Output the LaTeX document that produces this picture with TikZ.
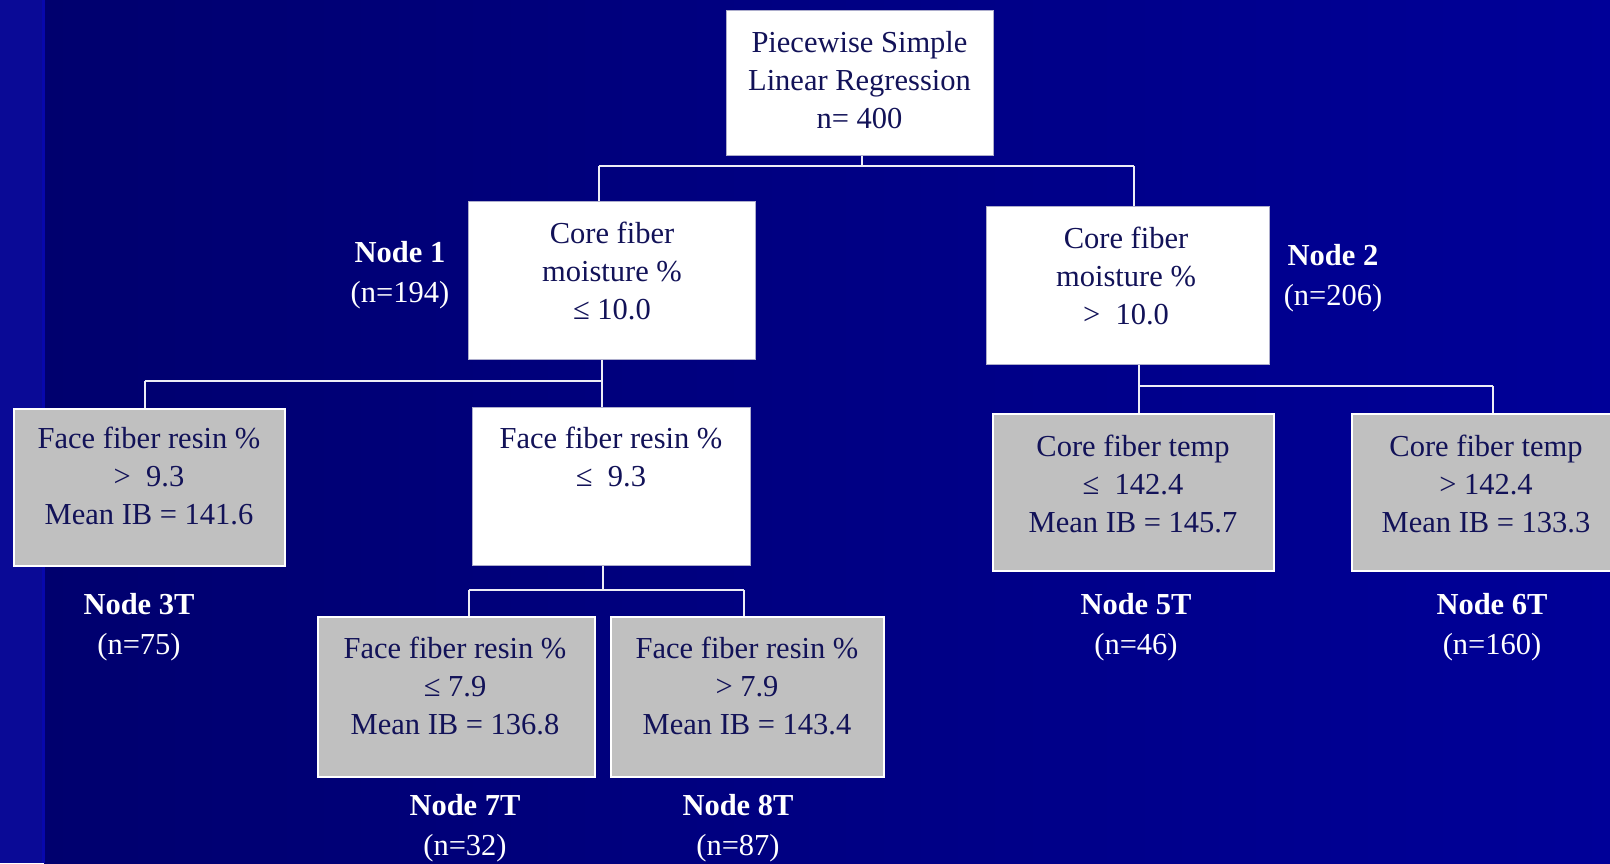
\documentclass[tikz,border=0pt]{standalone}
\usepackage{fontspec}
\setmainfont{Liberation Serif}
\definecolor{bgleft}{RGB}{0,0,110}
\definecolor{bgright}{RGB}{0,0,152}
\definecolor{stripcol}{RGB}{10,10,150}
\definecolor{stripedge}{RGB}{8,8,172}
\definecolor{ink}{RGB}{18,18,88}
\definecolor{panel}{RGB}{192,192,192}
\definecolor{wire}{RGB}{236,236,246}
\begin{document}
\begin{tikzpicture}[x=1pt,y=-1pt,
  wbox/.style={rectangle, fill=white, draw=white!80!blue!60!gray, line width=1pt, inner sep=0pt},
  gbox/.style={rectangle, fill=panel, draw=white, line width=1.8pt, inner sep=0pt},
  txt/.style={align=center, text=ink, inner sep=0pt, font=\fontsize{30.5}{38}\selectfont},
  lab/.style={align=center, text=white, inner sep=0pt, font=\fontsize{30.5}{40.5}\selectfont},
  link/.style={draw=wire, line width=2pt}]
\useasboundingbox (0,0) rectangle (1610,863);
% background
\shade[left color=bgleft, right color=bgright] (44,0) rectangle (1610,863);
\fill[stripcol] (0,0) rectangle (43,863);
\fill[stripedge] (42,0) rectangle (45,863);

% boxes
\node[wbox, minimum width=267pt, minimum height=145pt] (root) at (859.5,82.5) {};
\node[wbox, minimum width=287pt, minimum height=158pt] (n1) at (611.5,280) {};
\node[wbox, minimum width=283pt, minimum height=158pt] (n2) at (1127.5,285) {};
\node[gbox, minimum width=271pt, minimum height=157pt] (b3) at (149.5,487.5) {};
\node[wbox, minimum width=278pt, minimum height=158pt] (b4) at (611,486) {};
\node[gbox, minimum width=281pt, minimum height=157pt] (b5) at (1133.5,492.5) {};
\node[gbox, minimum width=262pt, minimum height=157pt] (b6) at (1483,492.5) {};
\node[gbox, minimum width=277pt, minimum height=160pt] (b7) at (456.5,697) {};
\node[gbox, minimum width=273pt, minimum height=160pt] (b8) at (747.5,697) {};

% box texts
\node[txt] (troot) at (859.5,80) {Piecewise Simple\\Linear Regression\\n= 400};
\node[txt] (tn1) at (612,271) {Core fiber\\moisture \%\\≤ 10.0};
\node[txt] (tn2) at (1126,276) {Core fiber\\moisture \%\\>\ \ 10.0};
\node[txt] (tb3) at (149,476) {Face fiber resin \%\\>\ \ 9.3\\Mean IB = 141.6};
\node[txt] (tb4) at (611,457) {Face fiber resin \%\\≤\ \ 9.3};
\node[txt] (tb5) at (1133,484) {Core fiber temp\\≤\ \ 142.4\\Mean IB = 145.7};
\node[txt] (tb6) at (1486,484) {Core fiber temp\\> 142.4\\Mean IB = 133.3};
\node[txt] (tb7) at (455,686) {Face fiber resin \%\\≤ 7.9\\Mean IB = 136.8};
\node[txt] (tb8) at (747,686) {Face fiber resin \%\\> 7.9\\Mean IB = 143.4};

% node labels
\node[lab] (l1) at (400,275) {\textbf{Node 1}\\(n=194)};
\node[lab] (l2) at (1333,278) {\textbf{Node 2}\\(n=206)};
\node[lab] (l3) at (139,627) {\textbf{Node 3T}\\(n=75)};
\node[lab] (l5) at (1136,627) {\textbf{Node 5T}\\(n=46)};
\node[lab] (l6) at (1492,627) {\textbf{Node 6T}\\(n=160)};
\node[lab] (l7) at (465,828) {\textbf{Node 7T}\\(n=32)};
\node[lab] (l8) at (738,828) {\textbf{Node 8T}\\(n=87)};

% junction points of the tree
\coordinate (r0) at (862,166);
\coordinate (rL) at (599,166);
\coordinate (rR) at (1134,166);
\coordinate (a0) at (602,381);
\coordinate (aL) at (145,381);
\coordinate (c0) at (1139,386);
\coordinate (cR) at (1493,386);
\coordinate (d0) at (603,590);
\coordinate (dL) at (469,590);
\coordinate (dR) at (744,590);

% connectors
\draw[link] (root.south -| r0) -- (r0);
\draw[link] (rL) -- (rR);
\draw[link] (rL) -- (rL |- n1.north);
\draw[link] (rR) -- (rR |- n2.north);

\draw[link] (n1.south -| a0) -- (a0 |- b4.north);
\draw[link] (aL) -- (a0);
\draw[link] (aL) -- (aL |- b3.north);

\draw[link] (n2.south -| c0) -- (c0 |- b5.north);
\draw[link] (c0) -- (cR);
\draw[link] (cR) -- (cR |- b6.north);

\draw[link] (b4.south -| d0) -- (d0);
\draw[link] (dL) -- (dR);
\draw[link] (dL) -- (dL |- b7.north);
\draw[link] (dR) -- (dR |- b8.north);
\end{tikzpicture}
\end{document}
